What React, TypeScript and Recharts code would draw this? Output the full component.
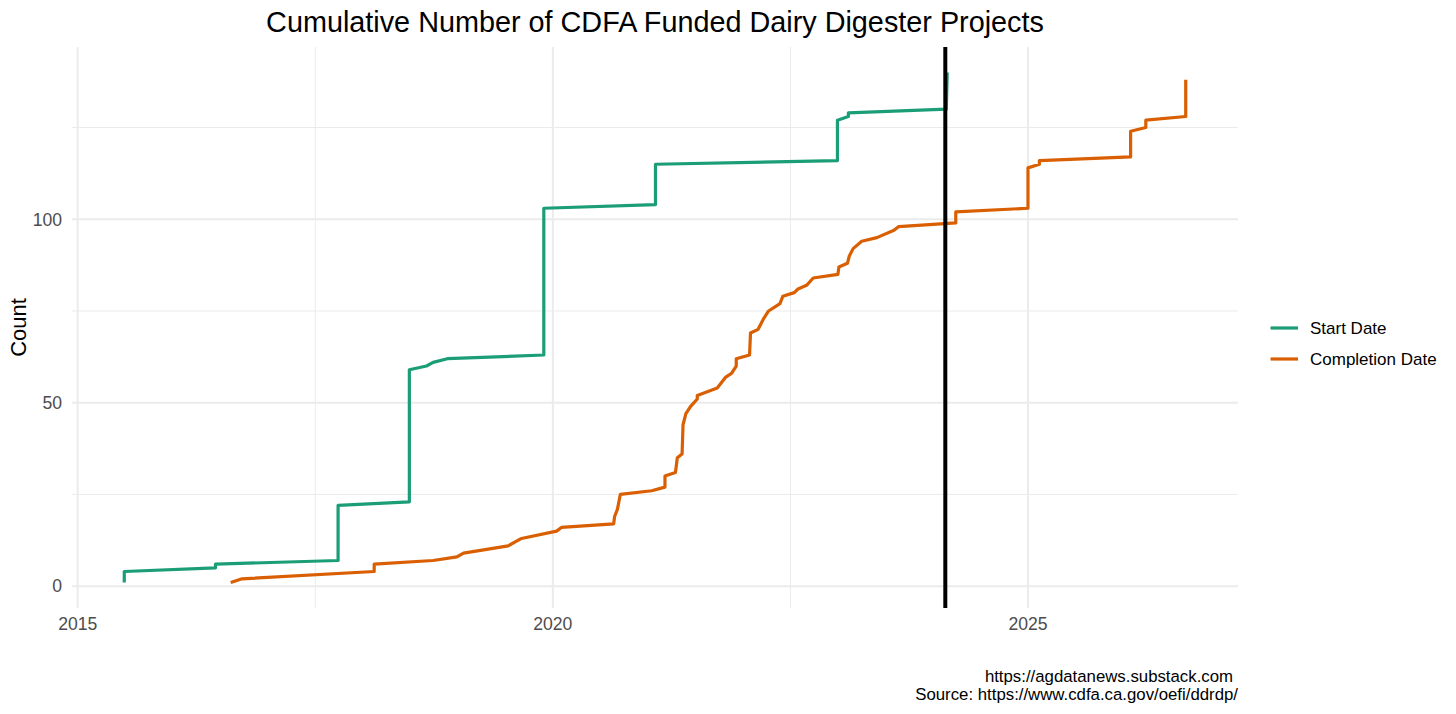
import React from 'react';
import { LineChart, Line, XAxis, YAxis, CartesianGrid, ReferenceLine } from 'recharts';

const FONT = '"Liberation Sans", Arial, Helvetica, sans-serif';

// Cumulative project counts by start date (decimal years)
const startDates = [
  2015.49, 2015.49, 2016.45, 2016.45, 2017.74, 2017.74, 2018.49, 2018.49, 2018.67, 2018.74,
  2018.89, 2019.905, 2019.905, 2021.08, 2021.08, 2022.995, 2022.995, 2023.11, 2023.11, 2024.14,
  2024.15,
];
const startCounts = [
  1, 4, 5, 6, 7, 22, 23, 59, 60, 61,
  62, 63, 103, 104, 115, 116, 127, 128, 129, 130,
  140,
];

// Cumulative project counts by completion date (decimal years)
const completionDates = [
  2016.61, 2016.73, 2018.12, 2018.12, 2018.74, 2018.99, 2019.06, 2019.53, 2019.67, 2020.04,
  2020.09, 2020.64, 2020.65, 2020.68, 2020.71, 2021.04, 2021.18, 2021.18, 2021.29, 2021.31,
  2021.36, 2021.37, 2021.40, 2021.45, 2021.52, 2021.52, 2021.73, 2021.82, 2021.88, 2021.93,
  2021.93, 2022.07, 2022.08, 2022.16, 2022.22, 2022.27, 2022.39, 2022.42, 2022.54, 2022.58,
  2022.67, 2022.74, 2023.00, 2023.01, 2023.10, 2023.12, 2023.16, 2023.25, 2023.41, 2023.59,
  2023.64, 2024.24, 2024.24, 2025.00, 2025.00, 2025.12, 2025.12, 2026.08, 2026.08, 2026.24,
  2026.24, 2026.66, 2026.66,
];
const completionCounts = [
  1, 2, 4, 6, 7, 8, 9, 11, 13, 15,
  16, 17, 19, 21, 25, 26, 27, 30, 31, 35,
  36, 44, 47, 49, 51, 52, 54, 57, 58, 60,
  62, 63, 69, 70, 73, 75, 77, 79, 80, 81,
  82, 84, 85, 87, 88, 90, 92, 94, 95, 97,
  98, 99, 102, 103, 114, 115, 116, 117, 124, 125,
  127, 128, 138,
];

const yearTicks = [2015, 2020, 2025];
const yearMinorTicks = [2017.5, 2022.5];
const countTicks = [0, 50, 100];
const countMinorTicks = [25, 75, 125];
const markerYear = 2024.13;

const seriesNames = ['Start Date', 'Completion Date'];
const seriesColors = ['#1B9E77', '#D95F02'];

const X_DOMAIN: [number, number] = [2014.94, 2027.21];
const Y_DOMAIN: [number, number] = [-5.95, 146.95];

const toPoints = (dates: number[], counts: number[]) =>
  dates.map((d, i) => ({ year: d, count: counts[i] }));

const startPoints = toPoints(startDates, startCounts);
const completionPoints = toPoints(completionDates, completionCounts);

const tickStyle = { fill: '#4D4D4D', fontSize: 17.6, fontFamily: FONT };
const GRID = '#EBEBEB';

export default function App() {
  return (
    <div style={{ position: 'absolute', left: 0, top: 0, width: 1456, height: 714, background: '#fff' }}>
      <LineChart width={1456} height={714} margin={{ top: 47, right: 218, bottom: 76, left: 0 }}>
        {/* hidden axes that only carry the minor grid positions */}
        <XAxis
          xAxisId="minor"
          type="number"
          dataKey="year"
          domain={X_DOMAIN}
          ticks={yearMinorTicks}
          interval={0}
          allowDataOverflow
          hide
        />
        <YAxis
          yAxisId="minor"
          type="number"
          domain={Y_DOMAIN}
          ticks={countMinorTicks}
          interval={0}
          allowDataOverflow
          hide
        />
        <CartesianGrid xAxisId="minor" yAxisId="minor" stroke={GRID} strokeWidth={1} syncWithTicks />
        <CartesianGrid stroke={GRID} strokeWidth={2} syncWithTicks />
        <XAxis
          type="number"
          dataKey="year"
          domain={X_DOMAIN}
          ticks={yearTicks}
          interval={0}
          allowDataOverflow
          axisLine={false}
          tickLine={false}
          tickSize={0}
          tickMargin={10}
          height={30}
          tick={tickStyle}
        />
        <YAxis
          type="number"
          domain={Y_DOMAIN}
          ticks={countTicks}
          interval={0}
          allowDataOverflow
          axisLine={false}
          tickLine={false}
          tickSize={0}
          tickMargin={10}
          width={72}
          tick={tickStyle}
        />
        <Line
          data={startPoints}
          dataKey="count"
          name={seriesNames[0]}
          type="linear"
          stroke={seriesColors[0]}
          strokeWidth={3.2}
          strokeLinejoin="round"
          dot={false}
          activeDot={false}
          isAnimationActive={false}
        />
        <Line
          data={completionPoints}
          dataKey="count"
          name={seriesNames[1]}
          type="linear"
          stroke={seriesColors[1]}
          strokeWidth={3.2}
          strokeLinejoin="round"
          dot={false}
          activeDot={false}
          isAnimationActive={false}
        />
        <ReferenceLine x={markerYear} stroke="#000000" strokeWidth={4} />
      </LineChart>
      <svg
        width={1456}
        height={714}
        style={{ position: 'absolute', left: 0, top: 0, pointerEvents: 'none' }}
        fontFamily={FONT}
      >
        <text x={655} y={31.7} textAnchor="middle" fontSize={28.8} fill="#000">
          Cumulative Number of CDFA Funded Dairy Digester Projects
        </text>
        <text transform="translate(26, 327.5) rotate(-90)" textAnchor="middle" fontSize={22} fill="#000">
          Count
        </text>
        {seriesNames.map((name, i) => (
          <g key={name}>
            <line
              x1={1270.5}
              x2={1298}
              y1={328 + i * 31}
              y2={328 + i * 31}
              stroke={seriesColors[i]}
              strokeWidth={3.2}
            />
            <text x={1310} y={334 + i * 31} fontSize={17} fill="#000">
              {name}
            </text>
          </g>
        ))}
        <text x={1233} y={682} textAnchor="end" fontSize={16.8} fill="#000">
          https://agdatanews.substack.com
        </text>
        <text x={1238} y={700} textAnchor="end" fontSize={16.8} fill="#000">
          Source: https://www.cdfa.ca.gov/oefi/ddrdp/
        </text>
      </svg>
    </div>
  );
}
